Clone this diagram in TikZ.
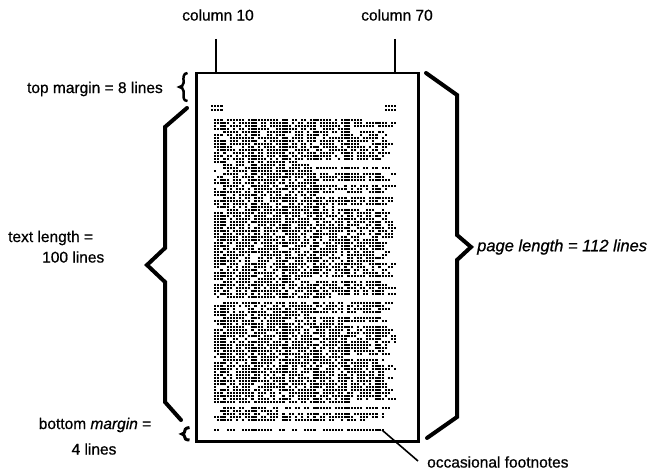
\documentclass[tikz,border=0pt]{standalone}
\usepackage{fontspec}
\setmainfont{Liberation Sans}
\newfontfamily\lblfont{Liberation Sans}[FakeBold=0.7]
\newcount\wordleft
\begin{document}
\begin{tikzpicture}[x=1pt,y=-1pt,
  lbl/.style={font=\lblfont\fontsize{15.5}{18}\selectfont, inner sep=0pt},
  bigbrace/.style={line width=4pt, line cap=round},
  dot/.style={fill=black}]
\useasboundingbox (0,0) rectangle (652,470);
% page
\node[draw, line width=2.5pt, minimum width=222pt, minimum height=368pt, inner sep=0pt, anchor=north west] (page) at (195,72) {};
% column labels and marks
\node[lbl] (c10) at (218,15) {column 10};
\node[lbl] (c70) at (397,15) {column 70};
\coordinate (c10top) at (216,39);
\coordinate (c70top) at (395,39);
\draw[line width=2.5pt] (c10top) -- (c10top |- page.north);
\draw[line width=2.5pt] (c70top) -- (c70top |- page.north);
% top margin
\node[lbl, anchor=east] (tm) at (163,89) {top margin = 8 lines};
\draw[line width=2.5pt] (187.5,73) .. controls (183,73.5) and (183.5,77) .. (183.5,81) -- (183.5,83) .. controls (183.5,85.5) and (181.5,86.5) .. (179.5,87) .. controls (181.5,87.5) and (183.5,88.5) .. (183.5,91) -- (183.5,95) .. controls (183.5,99) and (184,100.5) .. (187.5,101);
% text length
\draw[bigbrace] (187,108) -- (165,127) -- (165,248) -- (147,265) -- (165,282) -- (165,402) -- (181,420);
\node[lbl, anchor=west] (tl1) at (8,238) {text length =};
\node[lbl, anchor=west] (tl2) at (42,257) {100 lines};
% bottom margin
\node[lbl] (bm1) at (95,425) {bottom \textit{margin} =};
\node[lbl] (bm2) at (94,449) {4 lines};
\draw[line width=3pt] (189.5,427.5) .. controls (185,428) and (184.5,430) .. (184.5,432) .. controls (184.5,433) and (183.5,433.5) .. (182,434) .. controls (183.5,434.5) and (184.5,435) .. (184.5,436.5) .. controls (184.5,438.5) and (185.5,440) .. (189.5,440);
% page length
\draw[bigbrace] (426,73) -- (457,95) -- (457,235) -- (471,247) -- (457,260) -- (457,417) -- (427,438);
\node[lbl, anchor=west, font=\lblfont\fontsize{16.5}{18}\selectfont] (pl) at (477,247) {\textit{page length = 112 lines}};
% footnotes
\node[lbl, anchor=west] (fn) at (427,462) {occasional footnotes};
\coordinate (fnpt) at (382,430);
\draw[line width=1.6pt] (fnpt) -- ([shift={(-9,-1)}]fn.west);
% header dots
\foreach \c in {0,1,2,3,56,57,58,59}{
  \fill[dot] (211+3.1*\c,105) rectangle ++(2.2,2.2);
  \fill[dot] (211+3.1*\c,109) rectangle ++(2.2,2.2);
}
% footnote dots
\foreach \c in {1,2,5,6,7,10,11,12,13,14,15,16,17,18,19,22,23,26,27,30,31,32,33,36,37,38,39,40,41,42,44,45,46,47,48,49,50,51,52,53,54,55}{
  \fill[dot] (211+3.1*\c,429) rectangle ++(2.2,2.2);
}
% body text dots
\pgfmathsetseed{7}
\xdef\nextstart{0}
\foreach \r in {0,...,100}{%
  \ifnum\r=60 \xdef\nextstart{3}\else\ifnum\r=95 \xdef\nextstart{3}\else
    \edef\rowstart{\nextstart}%
    \pgfmathrandominteger{\sh}{0}{99}%
    \ifnum\sh<10 \pgfmathrandominteger{\rowend}{15}{45}\xdef\nextstart{3}\else\pgfmathrandominteger{\rowend}{55}{59}\xdef\nextstart{0}\fi
    \ifnum\r=0 \def\rowend{48}\fi
    \ifnum\r=59 \def\rowend{38}\fi
    \ifnum\r=94 \def\rowend{44}\fi
    \ifnum\r=100 \def\rowend{50}\fi
    \global\wordleft=0
    \foreach \c in {\rowstart,...,\rowend}{%
      \ifnum\wordleft>0
        \pgfmathrandominteger{\k}{0}{99}%
        \ifnum\k<88 \fill[dot] (211+3.1*\c,119+3*\r) rectangle ++(2.2,2.2);\fi
        \global\advance\wordleft by -1
      \else
        \pgfmathrandominteger{\w}{2}{10}%
        \global\wordleft=\w
      \fi
    }%
  \fi\fi
}
\end{tikzpicture}
\end{document}
